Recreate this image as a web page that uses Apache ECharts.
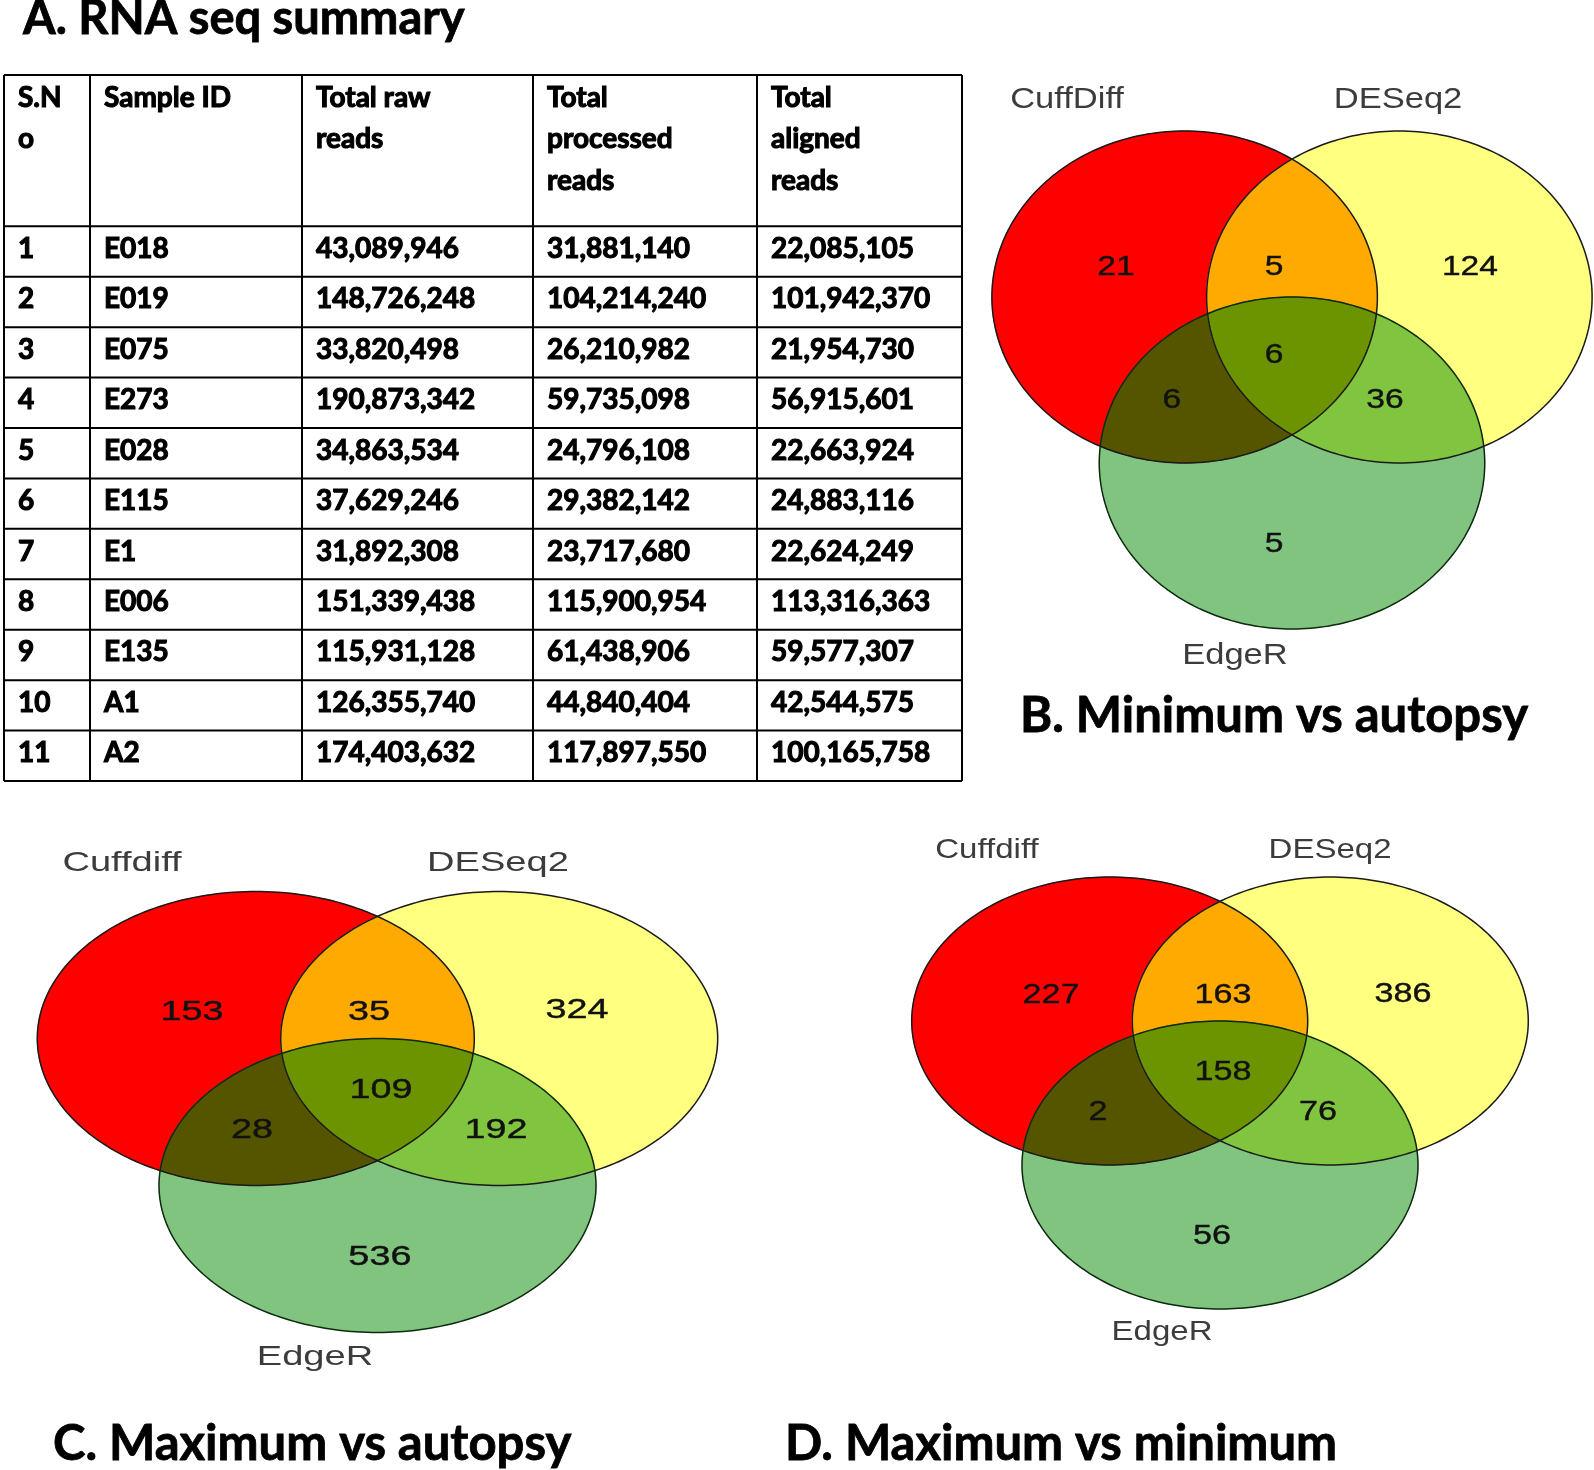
<!DOCTYPE html>
<html>
<head>
<meta charset="utf-8">
<script src="https://cdn.jsdelivr.net/npm/echarts@6/dist/echarts.min.js"></script>
<style>
html,body{margin:0;padding:0;background:#ffffff;}
#main{width:1594px;height:1470px;}
</style>
</head>
<body>
<div id="main"></div>
<script>
// ===================== DATA =====================
const panelTitles = ['A. RNA seq summary', 'B. Minimum vs autopsy', 'C. Maximum vs autopsy', 'D. Maximum vs minimum'];

const tableHeaders = [['S.N', 'o'], ['Sample ID'], ['Total raw', 'reads'], ['Total', 'processed', 'reads'], ['Total', 'aligned', 'reads']];
const serialNo = [1, 2, 3, 4, 5, 6, 7, 8, 9, 10, 11];
const sampleIds = ['E018', 'E019', 'E075', 'E273', 'E028', 'E115', 'E1', 'E006', 'E135', 'A1', 'A2'];
const rawReads = [43089946, 148726248, 33820498, 190873342, 34863534, 37629246, 31892308, 151339438, 115931128, 126355740, 174403632];
const processedReads = [31881140, 104214240, 26210982, 59735098, 24796108, 29382142, 23717680, 115900954, 61438906, 44840404, 117897550];
const alignedReads = [22085105, 101942370, 21954730, 56915601, 22663924, 24883116, 22624249, 113316363, 59577307, 42544575, 100165758];

// Venn region order: only set1, only set2, only set3, set1&2, set1&3, set2&3, all three
const setNamesB = ['CuffDiff', 'DESeq2', 'EdgeR'];
const countsB = [21, 124, 5, 5, 6, 36, 6];
const setNamesC = ['Cuffdiff', 'DESeq2', 'EdgeR'];
const countsC = [153, 324, 536, 35, 28, 192, 109];
const setNamesD = ['Cuffdiff', 'DESeq2', 'EdgeR'];
const countsD = [227, 386, 56, 163, 2, 76, 158];

// ===================== LAYOUT / STYLE =====================
const TABLE = {
  left: 4, top: 75, width: 958, height: 706,
  colEdges: [0, 86, 298, 529, 753, 958],
  headerUnits: 3, rowCount: 11,
  padX: 14, headerLineY: [0.46, 1.27, 2.10], rowTextY: 0.45,
  font: 'Lato', fontSize: 28
};

// set centres in radius units (set3 at origin)
const SET_CENTERS = [[-0.557, -1.0], [0.557, -1.0], [0, 0]];
const REGION_SETS = [[0], [1], [2], [0, 1], [0, 2], [1, 2], [0, 1, 2]];
const REGION_COLORS = ['#ff0000', '#ffff80', '#80c480', '#ffaa00', '#555500', '#80c440', '#6b9400'];
const X_RANGE = [-1.6, 1.55], Y_RANGE = [-2.5, 1.5];

const PANELS = [
  { names: setNamesB, counts: countsB, cx: 1292, cy: 463, rx: 192.75, ry: 166,
    numSize: 28, numScale: 1.2, labSize: 30, labScale: 1.15,
    numPos: [[-0.913, -1.181], [0.923, -1.181], [-0.093, 0.488], [-0.093, -1.181], [-0.623, -0.380], [0.482, -0.380], [-0.093, -0.651]],
    labPos: [[-1.167, -2.187], [0.550, -2.187], [-0.296, 1.163]] },
  { names: setNamesC, counts: countsC, cx: 377.5, cy: 1185.5, rx: 218.5, ry: 147,
    numSize: 28, numScale: 1.35, labSize: 28, labScale: 1.36,
    numPos: [[-0.849, -1.180], [0.913, -1.194], [0.011, 0.486], [-0.039, -1.180], [-0.574, -0.378], [0.542, -0.378], [0.016, -0.650]],
    labPos: [[-1.169, -2.194], [0.551, -2.194], [-0.286, 1.167]] },
  { names: setNamesD, counts: countsD, cx: 1220, cy: 1165, rx: 198, ry: 144,
    numSize: 28, numScale: 1.22, labSize: 28, labScale: 1.18,
    numPos: [[-0.854, -1.181], [0.924, -1.188], [-0.040, 0.493], [0.015, -1.181], [-0.616, -0.368], [0.495, -0.368], [0.015, -0.646]],
    labPos: [[-1.177, -2.188], [0.556, -2.188], [-0.293, 1.160]] }
];

// ===================== HELPERS =====================
const fmt = v => v.toLocaleString('en-US');
const N_SEG = 260;

function ellipsePx(api, c) {
  const p = api.coord(c);
  const s = api.size([1, 1]);
  const pts = [];
  for (let k = 0; k < N_SEG; k++) {
    const t = 2 * Math.PI * k / N_SEG;
    pts.push([p[0] + s[0] * Math.cos(t), p[1] + s[1] * Math.sin(t)]);
  }
  return pts;
}
function lineInter(P, Q, A, B) {
  const x1 = P[0], y1 = P[1], x2 = Q[0], y2 = Q[1], x3 = A[0], y3 = A[1], x4 = B[0], y4 = B[1];
  const den = (x1 - x2) * (y3 - y4) - (y1 - y2) * (x3 - x4);
  if (Math.abs(den) < 1e-12) return [x1, y1];
  const t = ((x1 - x3) * (y3 - y4) - (y1 - y3) * (x3 - x4)) / den;
  return [x1 + t * (x2 - x1), y1 + t * (y2 - y1)];
}
function clipPoly(subject, clip) {
  let area = 0;
  for (let i = 0; i < clip.length; i++) {
    const a = clip[i], b = clip[(i + 1) % clip.length];
    area += a[0] * b[1] - b[0] * a[1];
  }
  const sg = area > 0 ? 1 : -1;
  let out = subject;
  for (let i = 0; i < clip.length && out.length; i++) {
    const A = clip[i], B = clip[(i + 1) % clip.length];
    const inside = p => sg * ((B[0] - A[0]) * (p[1] - A[1]) - (B[1] - A[1]) * (p[0] - A[0])) >= 0;
    const inp = out; out = [];
    for (let j = 0; j < inp.length; j++) {
      const P = inp[j], Q = inp[(j + 1) % inp.length];
      const pin = inside(P), qin = inside(Q);
      if (pin) { out.push(P); if (!qin) out.push(lineInter(P, Q, A, B)); }
      else if (qin) out.push(lineInter(P, Q, A, B));
    }
  }
  return out;
}

// ===================== OPTION =====================
const grids = [], xAxes = [], yAxes = [], series = [];

// table grid
grids.push({ left: TABLE.left, top: TABLE.top, width: TABLE.width, height: TABLE.height });
xAxes.push({ type: 'value', gridIndex: 0, min: 0, max: TABLE.colEdges[TABLE.colEdges.length - 1], show: false });
yAxes.push({ type: 'value', gridIndex: 0, min: 0, max: TABLE.headerUnits + TABLE.rowCount, inverse: true, show: false });

// table lines
const tableLines = [];
const yEdges = [0];
for (let r = 0; r <= TABLE.rowCount; r++) yEdges.push(TABLE.headerUnits + r);
const totalY = TABLE.headerUnits + TABLE.rowCount;
const lastX = TABLE.colEdges[TABLE.colEdges.length - 1];
yEdges.forEach(y => tableLines.push([0, y, lastX, y]));
TABLE.colEdges.forEach(x => tableLines.push([x, 0, x, totalY]));

series.push({
  type: 'custom', name: 'tableLines', xAxisIndex: 0, yAxisIndex: 0, silent: true, animation: false,
  data: tableLines,
  renderItem: (params, api) => {
    const p1 = api.coord([api.value(0), api.value(1)]);
    const p2 = api.coord([api.value(2), api.value(3)]);
    return { type: 'line', shape: { x1: p1[0], y1: p1[1], x2: p2[0], y2: p2[1] },
      style: { stroke: '#000', lineWidth: 2 } };
  }
});

const tableTextStyle = (text) => ({ text, fill: '#000', fontFamily: TABLE.font, fontWeight: 'bold',
  fontSize: TABLE.fontSize, align: 'left', verticalAlign: 'middle',
  stroke: '#000', lineWidth: 1.1 });

series.push({
  type: 'custom', name: 'tableHeader', xAxisIndex: 0, yAxisIndex: 0, silent: true, animation: false,
  data: tableHeaders.map((h, i) => [i]),
  renderItem: (params, api) => {
    const c = api.value(0);
    const lines = tableHeaders[c];
    const children = lines.map((t, k) => {
      const p = api.coord([TABLE.colEdges[c], TABLE.headerLineY[k]]);
      return { type: 'text', x: p[0] + TABLE.padX, y: p[1], style: tableTextStyle(t) };
    });
    return { type: 'group', children };
  }
});

series.push({
  type: 'custom', name: 'tableBody', xAxisIndex: 0, yAxisIndex: 0, silent: true, animation: false,
  data: serialNo.map((s, i) => [i]),
  renderItem: (params, api) => {
    const i = api.value(0);
    const cells = [String(serialNo[i]), sampleIds[i], fmt(rawReads[i]), fmt(processedReads[i]), fmt(alignedReads[i])];
    const children = cells.map((t, c) => {
      const p = api.coord([TABLE.colEdges[c], TABLE.headerUnits + i + TABLE.rowTextY]);
      return { type: 'text', x: p[0] + TABLE.padX, y: p[1], style: tableTextStyle(t) };
    });
    return { type: 'group', children };
  }
});

// venn panels
PANELS.forEach((P, pi) => {
  const gi = pi + 1;
  grids.push({
    left: P.cx + X_RANGE[0] * P.rx, top: P.cy + Y_RANGE[0] * P.ry,
    width: (X_RANGE[1] - X_RANGE[0]) * P.rx, height: (Y_RANGE[1] - Y_RANGE[0]) * P.ry
  });
  xAxes.push({ type: 'value', gridIndex: gi, min: X_RANGE[0], max: X_RANGE[1], show: false });
  yAxes.push({ type: 'value', gridIndex: gi, min: Y_RANGE[0], max: Y_RANGE[1], inverse: true, show: false });

  // region fills
  series.push({
    type: 'custom', name: 'regions' + gi, xAxisIndex: gi, yAxisIndex: gi, silent: true, animation: false,
    data: P.counts.map((c, i) => [i, c]),
    renderItem: (params, api) => {
      const r = api.value(0);
      const sets = REGION_SETS[r];
      let poly = ellipsePx(api, SET_CENTERS[sets[0]]);
      for (let k = 1; k < sets.length; k++) poly = clipPoly(poly, ellipsePx(api, SET_CENTERS[sets[k]]));
      return { type: 'polygon', shape: { points: poly }, style: { fill: REGION_COLORS[r], stroke: REGION_COLORS[r], lineWidth: 0.6 } };
    }
  });
  // outlines
  series.push({
    type: 'custom', name: 'outlines' + gi, xAxisIndex: gi, yAxisIndex: gi, silent: true, animation: false,
    data: P.names.map((n, i) => [i]),
    renderItem: (params, api) => {
      const s = api.value(0);
      return { type: 'polygon', shape: { points: ellipsePx(api, SET_CENTERS[s]) },
        style: { fill: 'none', stroke: s === 2 ? '#0d2a0d' : '#1a1a1a', lineWidth: 1.5 } };
    }
  });
  // counts
  series.push({
    type: 'custom', name: 'counts' + gi, xAxisIndex: gi, yAxisIndex: gi, silent: true, animation: false,
    data: P.counts.map((c, i) => [i, c]),
    renderItem: (params, api) => {
      const r = api.value(0);
      const p = api.coord(P.numPos[r]);
      return { type: 'text', x: p[0], y: p[1], scaleX: P.numScale,
        style: { text: String(api.value(1)), fill: '#111111', fontFamily: 'Liberation Sans, Arial, sans-serif',
          fontSize: P.numSize, align: 'center', verticalAlign: 'middle', stroke: '#111111', lineWidth: 0.4 } };
    }
  });
  // set names
  series.push({
    type: 'custom', name: 'setNames' + gi, xAxisIndex: gi, yAxisIndex: gi, silent: true, animation: false,
    data: P.names.map((n, i) => [i]),
    renderItem: (params, api) => {
      const s = api.value(0);
      const p = api.coord(P.labPos[s]);
      return { type: 'text', x: p[0], y: p[1], scaleX: P.labScale,
        style: { text: P.names[s], fill: '#3c3c3c', fontFamily: 'Liberation Sans, Arial, sans-serif',
          fontSize: P.labSize, align: 'center', verticalAlign: 'middle' } };
    }
  });
});

const titleStyle = (size) => ({ fontFamily: 'Lato', fontWeight: 'bold', fontSize: size, color: '#000',
  textBorderColor: '#000', textBorderWidth: 0.8 });

const option = {
  backgroundColor: '#ffffff',
  animation: false,
  title: [
    { text: panelTitles[0], left: 23, top: -5, padding: 0, textStyle: titleStyle(47) },
    { text: panelTitles[1], left: 1020, top: 692, padding: 0, textStyle: titleStyle(49) },
    { text: panelTitles[2], left: 53, top: 1420, padding: 0, textStyle: titleStyle(49) },
    { text: panelTitles[3], left: 785, top: 1420, padding: 0, textStyle: titleStyle(49) }
  ],
  grid: grids,
  xAxis: xAxes,
  yAxis: yAxes,
  series
};

const chart = echarts.init(document.getElementById('main'), null, { renderer: 'canvas', width: 1594, height: 1470 });
chart.setOption(option);
</script>
</body>
</html>
